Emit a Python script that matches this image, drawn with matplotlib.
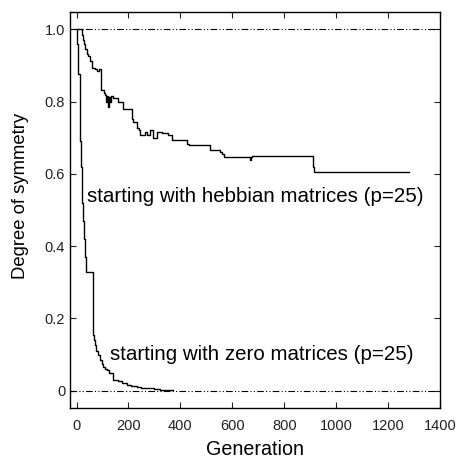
import numpy as np
import matplotlib
matplotlib.use('Agg')
from matplotlib import pyplot as plt

plt.rcParams['font.family'] = ['Liberation Sans', 'DejaVu Sans']

# hebbian start (p=25)
gen_hebb = [0, 20, 24, 30, 34, 39, 45, 52, 58, 72, 80, 86, 93,
            105, 109, 113, 117, 121, 125, 129, 133, 141, 161, 180,
            213, 217, 232, 240, 245, 262, 270, 284, 296, 309, 329,
            354, 367, 425, 432, 458, 496, 513, 516, 552, 561, 570,
            580, 668, 671, 677, 909, 914, 931, 1280]
sym_hebb = [1.0, 0.985, 0.97, 0.96, 0.945, 0.933, 0.925, 0.912, 0.893,
            0.889, 0.884, 0.889, 0.832,
            0.825, 0.818, 0.80, 0.815, 0.786, 0.812, 0.80, 0.815, 0.81,
            0.80, 0.78,
            0.752, 0.744, 0.726, 0.72, 0.707, 0.716, 0.708, 0.721,
            0.698, 0.716, 0.712,
            0.707, 0.695, 0.684, 0.681, 0.68, 0.681, 0.666, 0.666,
            0.661, 0.655, 0.646,
            0.646, 0.638, 0.646, 0.650, 0.620, 0.606, 0.606, 0.606]

# zero start (p=25)
gen_zero = [0, 3, 6, 13, 15, 18, 20, 22, 25, 28, 32, 36, 64, 67,
            72, 77, 84, 90, 97, 103, 110, 116, 125, 135, 142, 160,
            174, 180, 193, 210, 232, 250, 271, 300, 322, 345, 370]
sym_zero = [1.0, 0.96, 0.876, 0.75, 0.69, 0.62, 0.56, 0.52, 0.47,
            0.42, 0.37, 0.329, 0.154, 0.14,
            0.125, 0.11, 0.098, 0.085, 0.075, 0.066, 0.06, 0.057,
            0.05, 0.048, 0.03, 0.028,
            0.022, 0.02, 0.016, 0.012, 0.009, 0.007, 0.006, 0.004,
            0.003, 0.002, 0.002]

xticks = [0, 200, 400, 600, 800, 1000, 1200, 1400]
yticks = [0, 0.2, 0.4, 0.6, 0.8, 1.0]
ylabels = ['0', '0.2', '0.4', '0.6', '0.8', '1.0']

fig = plt.figure(figsize=(4.57, 4.59), dpi=100)
ax = fig.add_axes([0.1532, 0.1111, 0.8096, 0.8628])

ax.axhline(1.0, color='k', lw=0.8, dashes=(6, 2, 1, 2, 1, 2))
ax.axhline(0.0, color='k', lw=0.8, dashes=(6, 2, 1, 2, 1, 2))

ax.plot(gen_hebb, sym_hebb, drawstyle='steps-post', color='k', lw=1.0)
ax.plot(gen_zero, sym_zero, drawstyle='steps-post', color='k', lw=1.0)

ax.text(40, 0.537, 'starting with hebbian matrices (p=25)', fontsize=14.8,
        ha='left', va='center')
ax.text(129, 0.099, 'starting with zero matrices (p=25)', fontsize=14.8,
        ha='left', va='center')

ax.set_xlim(-25, 1400)
ax.set_ylim(-0.048, 1.048)
ax.set_xticks(xticks)
ax.set_yticks(yticks)
ax.set_yticklabels(ylabels)
ax.tick_params(direction='in', top=True, right=True, labelsize=10.5,
               length=4, width=0.8, colors='#222222')
ax.tick_params(axis='x', pad=8)
for s in ax.spines.values():
    s.set_linewidth(1.0)

ax.set_xlabel('Generation', fontsize=14.2)
ax.set_ylabel('Degree of symmetry', fontsize=13.3)
ax.xaxis.set_label_coords(0.5, -0.08)
ax.yaxis.set_label_coords(-0.112, 0.535)

fig.savefig('out.png', dpi=100)
